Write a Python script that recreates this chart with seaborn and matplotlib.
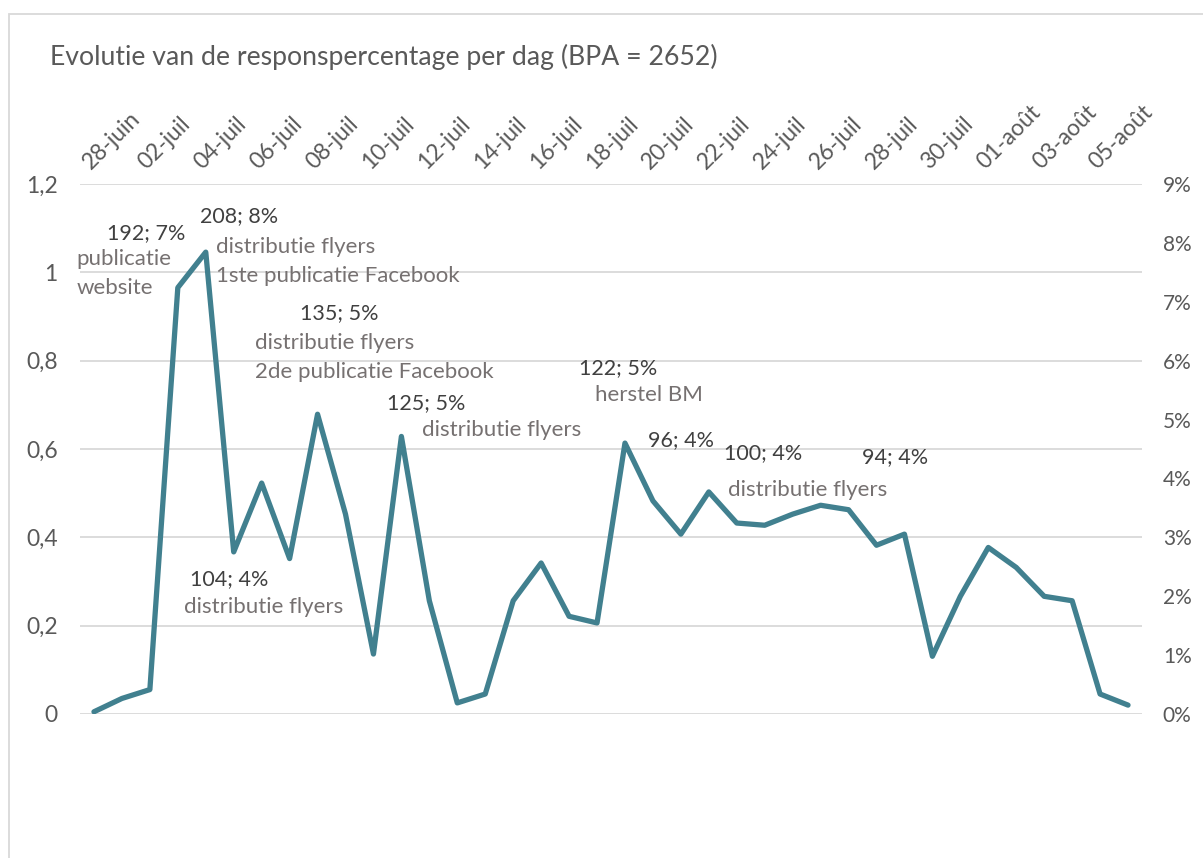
import matplotlib
matplotlib.use("Agg")
import matplotlib.pyplot as plt
import matplotlib.transforms as mtransforms
from matplotlib.patches import Rectangle
import seaborn as sns
import pandas as pd

# total number of addressed persons (BPA)
bpa = 2652

# day categories (text categories, as in the original sheet)
days = ["28-juin", "01-juil", "02-juil", "03-juil", "04-juil", "05-juil", "06-juil",
        "07-juil", "08-juil", "09-juil", "10-juil", "11-juil", "12-juil", "13-juil",
        "14-juil", "15-juil", "16-juil", "17-juil", "18-juil", "19-juil", "20-juil",
        "21-juil", "22-juil", "23-juil", "24-juil", "25-juil", "26-juil", "27-juil",
        "28-juil", "29-juil", "30-juil", "31-juil", "01-août", "02-août", "03-août",
        "04-août", "05-août", "06-août"]

# responses per day
responses = [1, 7, 11, 192, 208, 73, 104, 70, 135, 90, 27, 125, 51, 5, 9, 51, 68, 44, 41,
             122, 96, 81, 100, 86, 85, 90, 94, 92, 76, 81, 26, 53, 75, 66, 53, 51, 9, 4]

# annotated days and the event text shown with them
event_days = ["03-juil", "04-juil", "06-juil", "08-juil", "11-juil", "19-juil", "20-juil", "22-juil", "26-juil"]
event_text = [["publicatie", "website"],
              ["distributie flyers", "1ste publicatie Facebook"],
              ["distributie flyers"],
              ["distributie flyers", "2de publicatie Facebook"],
              ["distributie flyers"],
              ["herstel BM"],
              [],
              ["distributie flyers"],
              []]

left_ticks = [0, 0.2, 0.4, 0.6, 0.8, 1.0, 1.2]
right_ticks = [0, 1, 2, 3, 4, 5, 6, 7, 8, 9]

df = pd.DataFrame({"dag": days, "n": responses})
df["pos"] = range(len(df))
df["pct"] = df["n"] / bpa

# label placement (pixel offsets from the point): count label, first desc line
label_offsets = {
    "03-juil": ((-71, 55), (-101, 29)),
    "04-juil": ((-6, 36), (10, 5)),
    "06-juil": ((-72, -96), (-78, -124)),
    "08-juil": ((-18, 101), (-63, 71)),
    "11-juil": ((-14, 33), (21, 6)),
    "19-juil": ((-46, 75), (-30, 48)),
    "20-juil": ((-5, 61), None),
    "22-juil": ((15, 39), (19, 2)),
    "26-juil": ((41, 48), None),
}

sns.set_style("white")
plt.rcParams["font.family"] = ["Lato", "DejaVu Sans"]

line_color = "#41808F"
grid_color = "#D9D9D9"
tick_color = "#595959"
count_color = "#404040"
desc_color = "#767171"

fig = plt.figure(figsize=(12.03, 8.58), dpi=100)
ax = fig.add_axes([80 / 1203, 144 / 858, 1062 / 1203, 530 / 858])
ax2 = ax.twinx()

sns.lineplot(data=df, x="pos", y="pct", ax=ax2, color=line_color, linewidth=3.8,
             solid_joinstyle="round", solid_capstyle="round")

# left (dummy) axis
ax.set_ylim(0, 1.2)
ax.set_yticks(left_ticks)
ax.set_yticklabels([f"{v:g}".replace(".", ",") for v in left_ticks])
ax.yaxis.grid(True, color=grid_color, linewidth=1.3)
ax.xaxis.grid(False)

# x axis at the top, every second day
ax.xaxis.tick_top()
ax.set_xticks(df["pos"][::2])
ax.set_xticklabels(df["dag"][::2])
ax.set_xlim(-0.5, len(df) - 0.5)
shift = mtransforms.ScaledTranslation(5 / 100, -2 / 100, fig.dpi_scale_trans)
for lbl in ax.get_xticklabels():
    lbl.set_rotation(45)
    lbl.set_ha("left")
    lbl.set_va("bottom")
    lbl.set_rotation_mode("anchor")
    lbl.set_transform(lbl.get_transform() + shift)
ax.tick_params(axis="x", length=0, pad=8, labelsize=16.5, labelcolor=tick_color)
ax.tick_params(axis="y", length=0, pad=16, labelsize=16.5, labelcolor=tick_color)

# right axis in percent
ax2.set_ylim(0, 0.09)
ax2.set_yticks([t / 100 for t in right_ticks])
ax2.set_yticklabels([f"{t}%" for t in right_ticks])
ax2.tick_params(axis="y", length=0, pad=15, labelsize=15, labelcolor=tick_color)
ax2.set_xlabel("")
ax2.set_ylabel("")
ax.set_xlabel("")
ax.set_ylabel("")

for a in (ax, ax2):
    for s in a.spines.values():
        s.set_visible(False)

# data labels with events
for d, lines in zip(event_days, event_text):
    row = df[df["dag"] == d].iloc[0]
    xy = (row["pos"], row["pct"])
    cnt_off, desc_off = label_offsets[d]
    ax2.annotate(f"{row['n']}; {round(row['pct'] * 100)}%", xy=xy, xytext=cnt_off,
                 textcoords="offset pixels", ha="left", va="center",
                 fontsize=15.5, color=count_color)
    for k, line in enumerate(lines):
        ax2.annotate(line, xy=xy, xytext=(desc_off[0], desc_off[1] - 29 * k),
                     textcoords="offset pixels", ha="left", va="center",
                     fontsize=16, color=desc_color)

fig.text(50 / 1203, 1 - 57 / 858, f"Evolutie van de responspercentage per dag (BPA = {bpa})",
         ha="left", va="center", fontsize=19.2, color=tick_color)

# chart frame (right and bottom edges fall outside the picture)
fig.patches.append(Rectangle((9 / 1203, -0.05), 1.05, 1.05 - 14 / 858,
                             transform=fig.transFigure, fill=False,
                             edgecolor=grid_color, linewidth=1.3))

fig.savefig("out.png", dpi=100)
